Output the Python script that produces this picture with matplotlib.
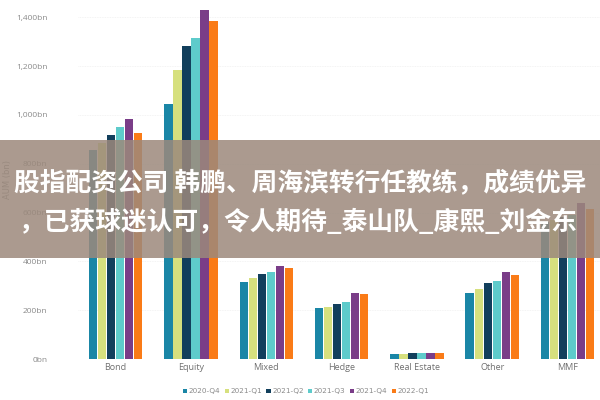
import matplotlib
matplotlib.use("Agg")
import matplotlib.pyplot as plt
import numpy as np
from matplotlib.patches import Rectangle

categories = ["Bond", "Equity", "Mixed", "Hedge", "Real Estate", "Other", "MMF"]
quarters = ["2020-Q4", "2021-Q1", "2021-Q2", "2021-Q3", "2021-Q4", "2022-Q1"]
colors = ["#1a86a6", "#d6e07e", "#123f5c", "#5ecbcb", "#7a3d88", "#fa7b17"]

q2020_4 = [855, 1044, 315, 209, 22, 270, 560]
q2021_1 = [884, 1183, 331, 213, 22, 287, 570]
q2021_2 = [917, 1281, 348, 225, 24, 311, 580]
q2021_3 = [950, 1314, 356, 233, 23, 319, 590]
q2021_4 = [982, 1428, 381, 270, 25, 356, 640]
q2022_1 = [925, 1383, 372, 266, 25, 344, 614]
series = [q2020_4, q2021_1, q2021_2, q2021_3, q2021_4, q2022_1]

yticks = [0, 200, 400, 600, 800, 1000, 1200, 1400]
ytick_labels = ["0bn", "200bn", "400bn", "600bn", "800bn", "1,000bn", "1,200bn", "1,400bn"]

title_lines = ["股指配资公司 韩鹏、周海滨转行任教练，成绩优异",
               "，已获球迷认可，令人期待_泰山队_康熙_刘金东"]

fig = plt.figure(figsize=(6, 4), dpi=100)
ax = fig.add_axes([0.13, 0.1025, 0.875, 0.885])

x = np.arange(len(categories))
w = 0.12
for j, vals in enumerate(series):
    ax.bar(x + (j - 2.5) * w, vals, width=w * 0.93, color=colors[j],
           label=quarters[j], zorder=2)

ax.set_xlim(-0.5, 6.47)
ax.set_ylim(0, 1450)
ax.set_yticks(yticks)
ax.set_yticklabels(ytick_labels, fontsize=6, color="#8a8a8a", family="Open Sans")
ax.set_xticks(x)
ax.set_xticklabels(categories, fontsize=6.5, color="#707070", family="Open Sans")
ax.tick_params(axis="y", length=0, pad=22)
ax.tick_params(axis="x", length=0, pad=3)
ax.grid(axis="y", color="#f0f0f0", linewidth=0.6, linestyle=(0, (1, 1)), zorder=0)
for s in ax.spines.values():
    s.set_visible(False)

fig.text(0.012, 0.55, "AUM (bn)", rotation=90, fontsize=6, color="#8a8a8a",
         ha="center", va="center")

fig.legend(loc="center", bbox_to_anchor=(0.51, 0.022), ncol=6, frameon=False,
           fontsize=5.2, handlelength=0.6, handletextpad=0.2, columnspacing=0.6,
           labelcolor="#8a8a8a")
leg = fig.legends[0]
for h in leg.legend_handles:
    h.set_height(3)
    h.set_width(3)

# overlay banner
fig.patches.append(Rectangle((0, 1 - 258 / 400), 1, 118 / 400, transform=fig.transFigure,
                             facecolor="#9c897c", alpha=0.85, zorder=5))
fig.text(0.5, 1 - 183 / 400, title_lines[0], ha="center", va="center", color="white",
         fontsize=18.5, fontweight="bold", family=["Noto Sans CJK SC", "DejaVu Sans"], zorder=6)
fig.text(0.497, 1 - 222 / 400, title_lines[1], ha="center", va="center", color="white",
         fontsize=18.5, fontweight="bold", family=["Noto Sans CJK SC", "DejaVu Sans"], zorder=6)

fig.savefig("out.png", dpi=100)
